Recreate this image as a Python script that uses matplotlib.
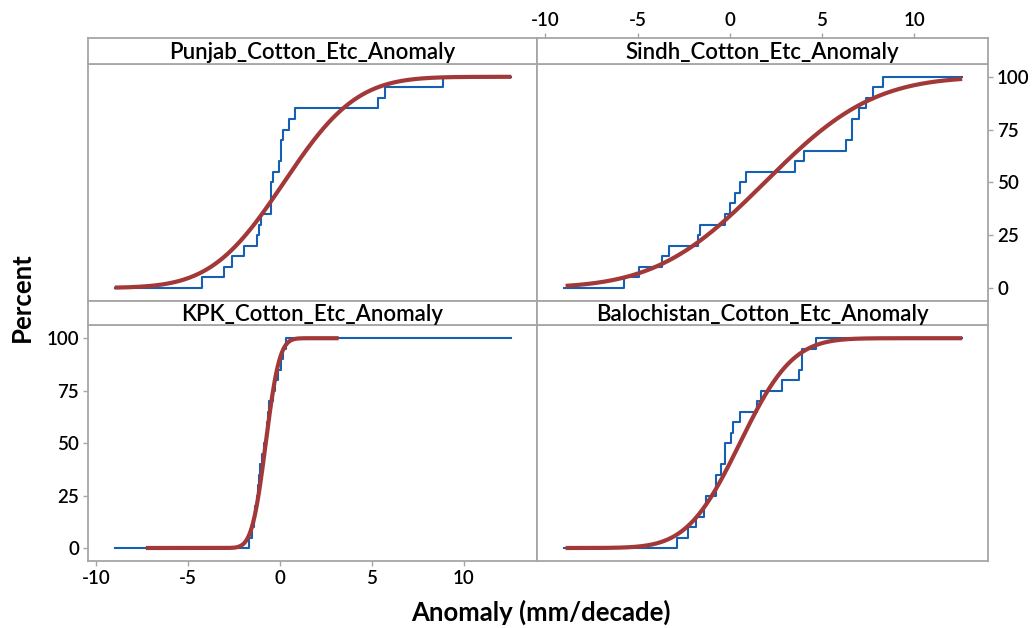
import numpy as np
import matplotlib.pyplot as plt
from math import erf, sqrt

plt.rcParams['axes.unicode_minus'] = False

punjab = [-4.26, -3.05, -2.59, -1.96, -1.27, -1.14, -1.02, -0.47, -0.47, -0.47,
          -0.36, -0.05, 0.04, 0.04, 0.18, 0.49, 0.80, 5.33, 5.75, 8.87]
sindh = [-5.76, -4.91, -3.69, -3.29, -1.72, -1.63, -0.27, 0.02, 0.27, 0.54,
         0.87, 3.54, 4.03, 6.32, 6.61, 6.61, 7.01, 7.37, 7.77, 8.31]
kpk = [-1.69, -1.51, -1.42, -1.38, -1.27, -1.20, -1.14, -1.09, -0.96, -0.87,
       -0.78, -0.69, -0.65, -0.60, -0.36, -0.24, -0.09, 0.04, 0.18, 0.31]
balochistan = [-2.86, -2.25, -1.83, -1.39, -1.27, -0.72, -0.72, -0.49, -0.27, -0.27,
               0.05, 0.15, 0.56, 1.50, 1.70, 2.82, 3.73, 3.94, 3.94, 4.66]

titles = ['Punjab_Cotton_Etc_Anomaly', 'Sindh_Cotton_Etc_Anomaly',
          'KPK_Cotton_Etc_Anomaly', 'Balochistan_Cotton_Etc_Anomaly']
series = [punjab, sindh, kpk, balochistan]
# x extent of the fitted normal curve in each panel
fit_range = [(-9.0, 12.6), (-8.9, 12.6), (-7.3, 3.2), (-8.9, 12.6)]
step_range = (-9.0, 12.6)
x_ticks = [-10, -5, 0, 5, 10]
y_ticks = [0, 25, 50, 75, 100]

W, H = 1034, 628
frame = '#A6A6A6'
blue = '#1560B2'
red = '#A33838'
font = 'Lato'

fig = plt.figure(figsize=(W / 100, H / 100), dpi=100)


def box(x0, x1, y0, y1):
    return [x0 / W, 1 - y1 / H, (x1 - x0) / W, (y1 - y0) / H]


cols = [(88, 537), (537, 988)]
rows = [((38, 63.5), (63.5, 301)), ((301, 325), (325, 561))]

norm_cdf = np.vectorize(lambda z: 0.5 * (1 + erf(z / sqrt(2))))

for i, (title, vals) in enumerate(zip(titles, series)):
    r, c = divmod(i, 2)
    x0, x1 = cols[c]
    (s0, s1), (p0, p1) = rows[r]

    ax = fig.add_axes(box(x0, x1, p0, p1))
    st = fig.add_axes(box(x0, x1, s0, s1), sharex=ax)

    v = np.sort(vals)
    n = len(v)
    xs = np.concatenate([[step_range[0]], v, [step_range[1]]])
    ys = np.concatenate([[0], np.arange(1, n + 1) / n * 100, [100]])
    ax.step(xs, ys, where='post', color=blue, lw=1.5, zorder=2)

    mu, sd = v.mean(), v.std(ddof=1)
    xf = np.linspace(fit_range[i][0], fit_range[i][1], 400)
    ax.plot(xf, norm_cdf((xf - mu) / sd) * 100, color=red, lw=3.0,
            solid_capstyle='butt', zorder=3)

    ax.set_xlim(-10.45, 14.0)
    ax.set_ylim(-6.2, 106.3)
    ax.set_xticks(x_ticks)
    ax.set_yticks(y_ticks)

    for a in (ax, st):
        for sp in a.spines.values():
            sp.set_color(frame)
            sp.set_linewidth(1.3)
        a.tick_params(colors=frame, labelcolor='black', length=3.5, width=1,
                      labelsize=13.5, pad=3)

    st.set_ylim(0, 1)
    st.set_yticks([])
    st.text(0.5, 0.45, title, transform=st.transAxes, ha='center', va='center',
            fontsize=16, family=font, fontweight='semibold')

    # axis ticks only on the outer sides, Minitab panel style
    outer_bl = (r == 1 and c == 0)
    outer_tr = (r == 0 and c == 1)
    ax.tick_params(bottom=outer_bl, labelbottom=outer_bl,
                   left=outer_bl, labelleft=outer_bl,
                   right=outer_tr, labelright=outer_tr,
                   top=False, labeltop=False)
    st.tick_params(bottom=False, labelbottom=False,
                   top=outer_tr, labeltop=outer_tr)
    for lab in ax.get_xticklabels() + ax.get_yticklabels() + st.get_xticklabels():
        lab.set_fontfamily(font)
        lab.set_fontweight('semibold')

fig.text(22 / W, 1 - 297 / H, 'Percent', rotation=90, ha='center', va='center',
         fontsize=18.5, family=font, fontweight='bold')
fig.text(541 / W, 1 - 612 / H, 'Anomaly (mm/decade)', ha='center', va='center',
         fontsize=18.5, family=font, fontweight='bold')

fig.savefig('out.png', dpi=100)
